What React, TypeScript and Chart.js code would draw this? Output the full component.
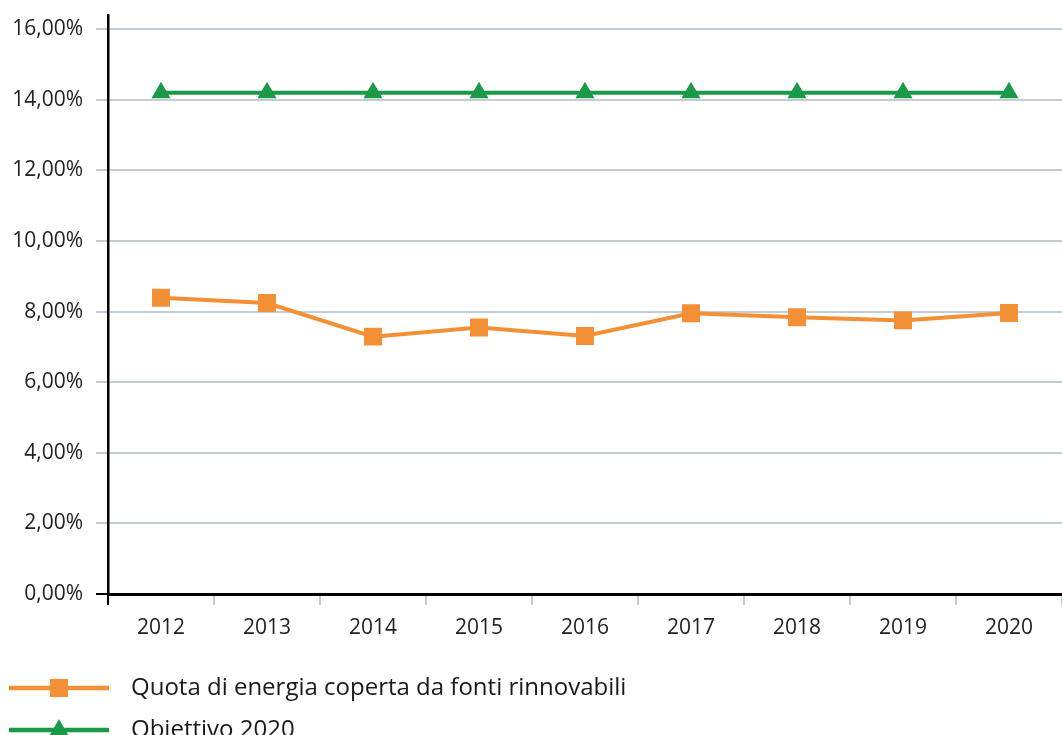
import React, { useEffect, useRef } from "react";
import { Chart, registerables } from "chart.js";

Chart.register(...registerables);

const years = ["2012", "2013", "2014", "2015", "2016", "2017", "2018", "2019", "2020"];
const quotaRinnovabili = [8.39, 8.24, 7.29, 7.55, 7.31, 7.95, 7.84, 7.75, 7.96];
const obiettivo2020 = [14.2, 14.2, 14.2, 14.2, 14.2, 14.2, 14.2, 14.2, 14.2];
const yTickValues = [0, 2, 4, 6, 8, 10, 12, 14, 16];
const seriesLabels = ["Quota di energia coperta da fonti rinnovabili", "Obiettivo 2020"];

const ORANGE = "#F39035";
const GREEN = "#1A9A49";
const GRID = "#C3CBD3";
const FONT = "'Open Sans', sans-serif";

const legendPlugin = {
  id: "lineMarkerLegend",
  afterDraw(chart: any) {
    const ctx = chart.ctx;
    const rows = [688, 730];
    chart.data.datasets.forEach((ds: any, i: number) => {
      const y = rows[i];
      ctx.save();
      ctx.strokeStyle = ds.borderColor;
      ctx.lineWidth = 4.5;
      ctx.beginPath();
      ctx.moveTo(9, y);
      ctx.lineTo(109, y);
      ctx.stroke();
      ctx.fillStyle = ds.borderColor;
      ctx.beginPath();
      if (ds.pointStyle === "rect") {
        ctx.rect(59 - 9, y - 9, 18, 18);
      } else {
        const r = 11;
        ctx.moveTo(59, y - r);
        ctx.lineTo(59 + r * Math.sin((2 * Math.PI) / 3), y + r / 2);
        ctx.lineTo(59 - r * Math.sin((2 * Math.PI) / 3), y + r / 2);
        ctx.closePath();
      }
      ctx.fill();
      ctx.fillStyle = "#1a1a1a";
      ctx.font = "24px " + FONT;
      ctx.textBaseline = "middle";
      ctx.textAlign = "left";
      ctx.fillText(ds.label, 131, y);
      ctx.restore();
    });
  },
};

export default function App() {
  const ref = useRef<HTMLCanvasElement | null>(null);
  useEffect(() => {
    document.body.style.margin = "0";
    const canvas = ref.current;
    if (!canvas) return;
    const chart = new Chart(canvas, {
      type: "line",
      data: {
        labels: years,
        datasets: [
          {
            label: seriesLabels[0],
            data: quotaRinnovabili,
            borderColor: ORANGE,
            backgroundColor: ORANGE,
            pointBackgroundColor: ORANGE,
            pointBorderWidth: 0,
            borderWidth: 4,
            pointStyle: "rect",
            pointRadius: 12.7,
            pointHoverRadius: 12.7,
            tension: 0,
          },
          {
            label: seriesLabels[1],
            data: obiettivo2020,
            borderColor: GREEN,
            backgroundColor: GREEN,
            pointBackgroundColor: GREEN,
            pointBorderWidth: 0,
            borderWidth: 4,
            pointStyle: "triangle",
            pointRadius: 11,
            pointHoverRadius: 11,
            tension: 0,
          },
        ],
      },
      options: {
        responsive: false,
        animation: false,
        layout: { autoPadding: false, padding: { top: 15, right: 0, left: 0, bottom: 116 } },
        plugins: {
          legend: { display: false },
          tooltip: { enabled: false },
        },
        scales: {
          x: {
            offset: true,
            grid: {
              offset: true,
              drawOnChartArea: false,
              drawTicks: true,
              tickLength: 11,
              lineWidth: 2,
              tickColor: (c: any) => (c.index === 0 ? "#000" : GRID),
            },
            border: { display: true, color: "#000", width: 3 },
            ticks: {
              color: "#222",
              font: { family: FONT, size: 21 },
              padding: 10,
              maxRotation: 0,
            },
            afterFit: (s: any) => {
              s.height = 50;
              s.paddingLeft = 0;
              s.paddingRight = 0;
            },
          },
          y: {
            min: 0,
            max: 16.4,
            afterBuildTicks: (s: any) => {
              s.ticks = yTickValues.map((v) => ({ value: v }));
            },
            grid: {
              color: (c: any) => (c.tick && c.tick.value === 0 ? "rgba(0,0,0,0)" : GRID),
              tickColor: (c: any) => (c.tick && c.tick.value === 0 ? "#000" : GRID),
              lineWidth: 2,
              tickLength: 12,
            },
            border: { display: true, color: "#000", width: 2.5 },
            ticks: {
              color: "#222",
              font: { family: FONT, size: 21 },
              padding: 13,
              callback: (v: any) => Number(v).toFixed(2).replace(".", ",") + "%",
            },
            afterFit: (s: any) => {
              s.width = 108;
              s.paddingTop = 0;
              s.paddingBottom = 0;
            },
          },
        },
      },
      plugins: [legendPlugin],
    });
    return () => chart.destroy();
  }, []);
  return (
    <div style={{ width: 1062, height: 735, overflow: "hidden" }}>
      <canvas ref={ref} width={1062} height={760} style={{ display: "block" }} />
    </div>
  );
}
